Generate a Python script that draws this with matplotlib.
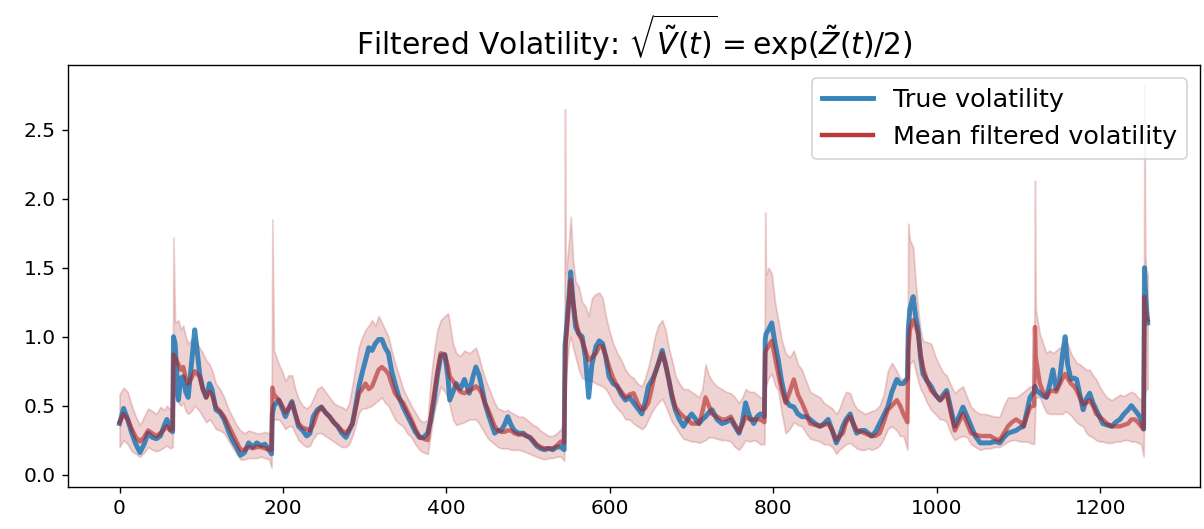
import matplotlib
matplotlib.use('Agg')
import matplotlib.pyplot as plt
import numpy as np

# time steps (denser around the jumps)
t = [0, 5, 10, 15, 20, 25, 30, 35, 40, 45, 50, 55, 58, 62, 65, 66, 68, 72, 75, 78,
     81, 84, 88, 92, 95, 98, 102, 106, 110, 113, 118, 123, 128, 133, 138, 143, 148, 153, 158, 163,
     168, 173, 178, 183, 186, 187, 189, 195, 199, 203, 207, 211, 215, 219, 224, 229, 233, 237, 242, 247,
     252, 257, 262, 267, 272, 277, 281, 285, 289, 293, 297, 301, 305, 309, 313, 317, 321, 325, 329, 333,
     337, 342, 347, 352, 357, 362, 367, 372, 377, 381, 385, 389, 393, 398, 402, 404, 408, 412, 417, 422,
     428, 432, 436, 440, 443, 447, 451, 455, 459, 463, 467, 471, 475, 479, 483, 488, 494, 498, 502, 506,
     510, 515, 520, 525, 530, 535, 540, 544, 545, 546, 550, 552, 555, 558, 562, 566, 570, 574, 578, 583,
     587, 591, 595, 599, 604, 609, 614, 619, 624, 629, 634, 639, 643, 647, 651, 655, 659, 664, 668, 672,
     676, 680, 685, 690, 695, 700, 705, 709, 713, 717, 721, 725, 731, 737, 742, 748, 753, 758, 762, 766,
     771, 776, 780, 784, 789, 790, 791, 794, 798, 802, 806, 810, 815, 820, 825, 830, 835, 840, 845, 851,
     857, 862, 867, 872, 877, 881, 885, 889, 894, 898, 902, 907, 912, 916, 920, 925, 930, 935, 940, 945,
     951, 955, 959, 964, 965, 967, 971, 974, 977, 980, 983, 988, 993, 998, 1004, 1008, 1012, 1017, 1022, 1027,
     1032, 1037, 1042, 1047, 1053, 1059, 1065, 1071, 1077, 1082, 1087, 1092, 1097, 1102, 1106, 1110, 1114, 1119, 1120, 1121,
     1126, 1130, 1134, 1138, 1142, 1146, 1150, 1154, 1157, 1160, 1164, 1168, 1171, 1175, 1179, 1183, 1187, 1191, 1195, 1199,
     1203, 1208, 1214, 1219, 1224, 1229, 1234, 1238, 1242, 1246, 1250, 1253, 1254, 1255, 1256, 1258]

true_vol = [0.37, 0.48, 0.40, 0.30, 0.22, 0.16, 0.22, 0.30, 0.27, 0.26, 0.28, 0.36, 0.40, 0.33, 0.31, 1.00, 0.95, 0.54, 0.70, 0.71,
            0.60, 0.56, 0.80, 1.05, 0.90, 0.73, 0.62, 0.56, 0.66, 0.62, 0.47, 0.45, 0.40, 0.32, 0.25, 0.20, 0.14, 0.16, 0.23, 0.20,
            0.23, 0.21, 0.22, 0.18, 0.15, 0.44, 0.50, 0.54, 0.48, 0.42, 0.48, 0.53, 0.44, 0.35, 0.32, 0.28, 0.30, 0.42, 0.47, 0.49,
            0.45, 0.42, 0.38, 0.35, 0.30, 0.27, 0.32, 0.37, 0.50, 0.64, 0.74, 0.83, 0.92, 0.90, 0.95, 0.98, 0.98, 0.92, 0.88, 0.75,
            0.66, 0.56, 0.49, 0.43, 0.37, 0.31, 0.27, 0.27, 0.30, 0.40, 0.54, 0.72, 0.86, 0.87, 0.70, 0.54, 0.60, 0.66, 0.62, 0.69,
            0.59, 0.70, 0.78, 0.72, 0.64, 0.52, 0.44, 0.37, 0.30, 0.32, 0.32, 0.36, 0.42, 0.36, 0.32, 0.30, 0.30, 0.28, 0.27, 0.24,
            0.21, 0.19, 0.18, 0.19, 0.18, 0.20, 0.20, 0.18, 0.93, 1.00, 1.30, 1.47, 1.25, 1.07, 1.02, 1.00, 0.85, 0.56, 0.80, 0.93,
            0.97, 0.95, 0.85, 0.71, 0.66, 0.64, 0.58, 0.54, 0.56, 0.52, 0.48, 0.44, 0.52, 0.64, 0.68, 0.73, 0.80, 0.90, 0.80, 0.69,
            0.56, 0.47, 0.40, 0.35, 0.40, 0.44, 0.40, 0.37, 0.40, 0.42, 0.45, 0.47, 0.40, 0.37, 0.38, 0.40, 0.35, 0.30, 0.38, 0.52,
            0.42, 0.37, 0.42, 0.44, 0.42, 0.98, 1.02, 1.05, 1.10, 0.95, 0.83, 0.68, 0.54, 0.50, 0.49, 0.44, 0.42, 0.42, 0.40, 0.37,
            0.35, 0.37, 0.40, 0.32, 0.23, 0.28, 0.35, 0.40, 0.44, 0.36, 0.30, 0.32, 0.32, 0.30, 0.28, 0.31, 0.37, 0.43, 0.49, 0.60,
            0.69, 0.66, 0.66, 0.70, 1.05, 1.20, 1.29, 1.15, 1.05, 0.85, 0.73, 0.68, 0.64, 0.58, 0.54, 0.58, 0.61, 0.48, 0.35, 0.42,
            0.49, 0.42, 0.35, 0.28, 0.23, 0.23, 0.23, 0.24, 0.23, 0.27, 0.30, 0.31, 0.32, 0.34, 0.35, 0.45, 0.56, 0.60, 0.64, 0.62,
            0.59, 0.57, 0.56, 0.65, 0.76, 0.62, 0.68, 0.88, 1.00, 0.80, 0.69, 0.70, 0.69, 0.58, 0.47, 0.55, 0.59, 0.52, 0.47, 0.42,
            0.37, 0.36, 0.35, 0.38, 0.40, 0.44, 0.47, 0.50, 0.47, 0.44, 0.40, 0.33, 1.50, 1.35, 1.25, 1.10]

mean_vol = [0.38, 0.44, 0.40, 0.33, 0.27, 0.24, 0.27, 0.32, 0.30, 0.28, 0.30, 0.33, 0.35, 0.32, 0.33, 0.87, 0.85, 0.80, 0.76, 0.78,
            0.70, 0.66, 0.70, 0.75, 0.73, 0.71, 0.62, 0.56, 0.60, 0.58, 0.49, 0.46, 0.42, 0.36, 0.30, 0.24, 0.18, 0.18, 0.20, 0.19,
            0.20, 0.20, 0.19, 0.18, 0.18, 0.63, 0.58, 0.54, 0.50, 0.45, 0.48, 0.52, 0.44, 0.37, 0.34, 0.33, 0.32, 0.36, 0.45, 0.49,
            0.45, 0.42, 0.38, 0.35, 0.32, 0.30, 0.33, 0.37, 0.48, 0.59, 0.62, 0.66, 0.62, 0.64, 0.70, 0.76, 0.78, 0.76, 0.73, 0.66,
            0.59, 0.55, 0.52, 0.46, 0.40, 0.33, 0.27, 0.26, 0.25, 0.42, 0.59, 0.75, 0.88, 0.87, 0.78, 0.71, 0.68, 0.64, 0.60, 0.59,
            0.61, 0.62, 0.64, 0.62, 0.59, 0.52, 0.47, 0.41, 0.35, 0.32, 0.31, 0.31, 0.32, 0.32, 0.30, 0.29, 0.29, 0.28, 0.27, 0.25,
            0.22, 0.20, 0.19, 0.19, 0.19, 0.21, 0.24, 0.23, 0.66, 0.95, 1.25, 1.41, 1.25, 1.12, 1.02, 0.97, 0.90, 0.83, 0.85, 0.88,
            0.93, 0.93, 0.86, 0.78, 0.70, 0.64, 0.60, 0.56, 0.58, 0.59, 0.52, 0.47, 0.48, 0.52, 0.62, 0.73, 0.80, 0.88, 0.80, 0.69,
            0.58, 0.49, 0.45, 0.42, 0.40, 0.37, 0.37, 0.37, 0.45, 0.56, 0.50, 0.44, 0.42, 0.40, 0.40, 0.42, 0.36, 0.31, 0.36, 0.42,
            0.40, 0.40, 0.40, 0.40, 0.38, 0.88, 0.90, 0.93, 0.97, 0.85, 0.73, 0.62, 0.52, 0.60, 0.69, 0.58, 0.52, 0.45, 0.37, 0.36,
            0.35, 0.36, 0.37, 0.32, 0.25, 0.28, 0.30, 0.38, 0.42, 0.37, 0.32, 0.31, 0.30, 0.29, 0.28, 0.28, 0.30, 0.38, 0.47, 0.50,
            0.54, 0.50, 0.44, 0.38, 0.90, 1.05, 1.12, 1.08, 1.02, 0.88, 0.78, 0.68, 0.61, 0.58, 0.54, 0.56, 0.59, 0.45, 0.32, 0.38,
            0.44, 0.37, 0.30, 0.29, 0.28, 0.28, 0.28, 0.26, 0.25, 0.30, 0.35, 0.38, 0.40, 0.38, 0.35, 0.42, 0.49, 0.50, 1.07, 0.85,
            0.66, 0.60, 0.56, 0.60, 0.61, 0.60, 0.65, 0.70, 0.73, 0.70, 0.66, 0.64, 0.61, 0.56, 0.51, 0.52, 0.54, 0.50, 0.44, 0.42,
            0.40, 0.37, 0.35, 0.35, 0.35, 0.36, 0.37, 0.40, 0.40, 0.38, 0.35, 0.33, 1.29, 1.20, 1.15, 1.12]

band_lo = [0.20, 0.25, 0.22, 0.17, 0.15, 0.13, 0.16, 0.20, 0.18, 0.17, 0.18, 0.20, 0.21, 0.19, 0.20, 0.55, 0.58, 0.52, 0.50, 0.52,
           0.46, 0.44, 0.46, 0.50, 0.48, 0.46, 0.42, 0.38, 0.40, 0.38, 0.33, 0.32, 0.30, 0.25, 0.20, 0.15, 0.11, 0.11, 0.12, 0.12,
           0.12, 0.13, 0.12, 0.11, 0.05, 0.40, 0.40, 0.40, 0.37, 0.33, 0.35, 0.35, 0.30, 0.25, 0.22, 0.20, 0.21, 0.26, 0.30, 0.30,
           0.28, 0.26, 0.24, 0.22, 0.20, 0.20, 0.22, 0.28, 0.36, 0.45, 0.48, 0.48, 0.49, 0.50, 0.52, 0.54, 0.56, 0.52, 0.50, 0.45,
           0.40, 0.37, 0.35, 0.30, 0.27, 0.22, 0.18, 0.16, 0.15, 0.30, 0.45, 0.55, 0.64, 0.60, 0.55, 0.50, 0.40, 0.36, 0.37, 0.38,
           0.40, 0.40, 0.40, 0.37, 0.34, 0.30, 0.26, 0.24, 0.22, 0.20, 0.19, 0.19, 0.19, 0.18, 0.18, 0.18, 0.17, 0.16, 0.15, 0.14,
           0.13, 0.12, 0.11, 0.12, 0.12, 0.13, 0.13, 0.10, 0.40, 0.70, 0.95, 1.00, 0.92, 0.85, 0.76, 0.70, 0.69, 0.68, 0.68, 0.66,
           0.65, 0.64, 0.62, 0.58, 0.52, 0.48, 0.45, 0.40, 0.40, 0.37, 0.35, 0.33, 0.35, 0.40, 0.45, 0.49, 0.52, 0.55, 0.50, 0.44,
           0.38, 0.35, 0.30, 0.26, 0.25, 0.24, 0.24, 0.23, 0.24, 0.25, 0.27, 0.27, 0.26, 0.25, 0.25, 0.24, 0.20, 0.18, 0.21, 0.25,
           0.24, 0.25, 0.24, 0.22, 0.22, 0.60, 0.65, 0.70, 0.73, 0.65, 0.61, 0.45, 0.30, 0.33, 0.38, 0.36, 0.35, 0.30, 0.26, 0.25,
           0.24, 0.22, 0.22, 0.20, 0.15, 0.18, 0.20, 0.22, 0.23, 0.21, 0.19, 0.18, 0.18, 0.19, 0.18, 0.19, 0.21, 0.26, 0.33, 0.35,
           0.32, 0.28, 0.28, 0.18, 0.60, 0.80, 0.83, 0.75, 0.68, 0.62, 0.59, 0.52, 0.47, 0.44, 0.40, 0.40, 0.38, 0.30, 0.25, 0.27,
           0.28, 0.27, 0.22, 0.20, 0.18, 0.19, 0.19, 0.20, 0.20, 0.22, 0.24, 0.25, 0.25, 0.24, 0.24, 0.24, 0.23, 0.22, 0.40, 0.56,
           0.56, 0.50, 0.45, 0.44, 0.44, 0.44, 0.44, 0.44, 0.46, 0.45, 0.43, 0.40, 0.38, 0.36, 0.35, 0.30, 0.28, 0.27, 0.25, 0.24,
           0.24, 0.23, 0.23, 0.24, 0.24, 0.25, 0.25, 0.24, 0.24, 0.23, 0.22, 0.13, 0.55, 0.60, 0.62, 0.62]

band_hi = [0.58, 0.63, 0.60, 0.50, 0.42, 0.36, 0.42, 0.48, 0.46, 0.44, 0.49, 0.47, 0.50, 0.47, 0.50, 1.72, 1.10, 1.12, 1.05, 1.08,
           1.00, 0.95, 0.98, 1.00, 0.95, 0.92, 0.88, 0.83, 0.80, 0.76, 0.66, 0.62, 0.56, 0.48, 0.42, 0.36, 0.32, 0.30, 0.32, 0.31,
           0.30, 0.30, 0.31, 0.30, 0.28, 1.85, 0.90, 0.80, 0.75, 0.68, 0.72, 0.72, 0.62, 0.55, 0.50, 0.48, 0.50, 0.55, 0.62, 0.64,
           0.60, 0.56, 0.52, 0.50, 0.49, 0.47, 0.52, 0.65, 0.80, 0.93, 1.00, 1.05, 1.08, 1.12, 1.08, 1.15, 1.10, 1.05, 1.00, 0.90,
           0.81, 0.72, 0.62, 0.56, 0.50, 0.45, 0.40, 0.38, 0.40, 0.70, 0.90, 1.05, 1.12, 1.15, 1.17, 1.10, 0.95, 0.88, 0.86, 0.90,
           0.88, 0.90, 0.92, 0.85, 0.78, 0.70, 0.64, 0.58, 0.52, 0.48, 0.47, 0.46, 0.47, 0.45, 0.44, 0.42, 0.42, 0.40, 0.38, 0.36,
           0.35, 0.32, 0.30, 0.28, 0.28, 0.30, 0.33, 0.36, 2.65, 1.45, 1.70, 1.87, 1.55, 1.40, 1.36, 1.25, 1.22, 1.15, 1.28, 1.31,
           1.32, 1.28, 1.15, 1.05, 0.95, 0.88, 0.83, 0.76, 0.72, 0.70, 0.66, 0.64, 0.70, 0.78, 0.88, 1.00, 1.08, 1.12, 1.05, 0.92,
           0.83, 0.72, 0.66, 0.62, 0.62, 0.60, 0.58, 0.56, 0.62, 0.80, 0.72, 0.68, 0.64, 0.62, 0.60, 0.59, 0.56, 0.52, 0.56, 0.62,
           0.60, 0.60, 0.58, 0.56, 0.55, 1.90, 1.45, 1.50, 1.46, 1.25, 1.12, 0.98, 0.88, 0.85, 0.90, 0.80, 0.76, 0.68, 0.60, 0.58,
           0.56, 0.52, 0.50, 0.48, 0.44, 0.48, 0.55, 0.60, 0.59, 0.52, 0.48, 0.46, 0.44, 0.45, 0.46, 0.47, 0.50, 0.58, 0.75, 0.81,
           0.75, 0.70, 0.69, 0.70, 1.82, 1.70, 1.65, 1.40, 1.20, 1.05, 0.97, 0.96, 0.95, 0.86, 0.78, 0.74, 0.72, 0.65, 0.59, 0.62,
           0.64, 0.56, 0.49, 0.46, 0.44, 0.44, 0.43, 0.42, 0.42, 0.50, 0.56, 0.56, 0.56, 0.58, 0.60, 0.62, 0.64, 0.64, 2.13, 1.20,
           1.02, 0.95, 0.88, 0.90, 0.88, 0.90, 0.92, 0.93, 0.98, 0.95, 0.88, 0.84, 0.81, 0.80, 0.78, 0.76, 0.76, 0.72, 0.69, 0.64,
           0.60, 0.56, 0.54, 0.56, 0.58, 0.57, 0.59, 0.60, 0.59, 0.56, 0.54, 0.52, 2.83, 1.60, 1.50, 1.45]

title = r'Filtered Volatility: $\sqrt{\tilde{V}(t)} = \exp(\tilde{Z}(t)/2)$'

DPI = 126
fig = plt.figure(figsize=(1204 / DPI, 529 / DPI), dpi=DPI)
ax = fig.add_axes([0.0565, 0.0794, 0.9402, 0.7977])

ax.fill_between(t, band_lo, band_hi, color='#b22222', alpha=0.2)
ax.plot(t, true_vol, color='#1f77b4', linewidth=2.8, alpha=0.85, label='True volatility')
ax.plot(t, mean_vol, color='#b22222', linewidth=2.5, alpha=0.6, label='Mean filtered volatility')

ax.set_xlim(-63, 1322)
ax.set_ylim(-0.09, 2.97)
ax.set_xticks([0, 200, 400, 600, 800, 1000, 1200])
ax.set_yticks([0.0, 0.5, 1.0, 1.5, 2.0, 2.5])
ax.tick_params(labelsize=11.5)
ax.set_title(title, fontsize=17)
leg = ax.legend(loc='upper right', fontsize=14.5)
for h in leg.legend_handles:
    h.set_alpha(0.9)

fig.savefig('out.png', dpi=DPI)
